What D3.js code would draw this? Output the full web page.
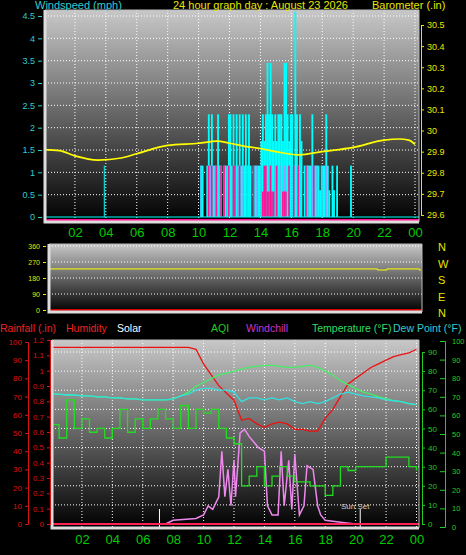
<!DOCTYPE html>
<html><head><meta charset="utf-8">
<script src="https://cdn.jsdelivr.net/npm/d3@7"></script>
<style>body{margin:0;background:#000}svg{display:block;font-family:"Liberation Sans",Arial,sans-serif}</style>
</head><body><svg id="c" width="466" height="555"></svg>
<script>
// ---- data ----
const halfHours = d3.range(0, 24.01, 0.5);
const pressure = [[0,29.91],[1,29.905],[2,29.88],[3.5,29.86],[5,29.87],[6,29.89],[8,29.93],[10,29.94],[11.2,29.95],[12,29.94],[13,29.925],[14,29.915],[15,29.9],[16.5,29.885],[18,29.9],[20,29.92],[22,29.955],[23,29.96],[23.6,29.955],[24,29.935]];
const windHours = d3.range(0, 100).map(i => 10 + i / 10);
const gust = [0,1.15,1.15,0,0,1.15,2.3,1.15,2.3,1.15,
  1.15,1.15,2.3,1.15,1.15,0,1.15,1.15,1.15,2.3,
  2.3,1.15,2.3,1.15,2.3,1.15,2.3,1.15,2.3,1.15,
  2.3,1.15,2.3,1.15,0,1.15,1.15,1.15,1.15,1.15,
  1.7,2.3,1.7,2.3,3.45,2.3,3.45,2.3,1.7,2.3,
  1.7,2.3,2.3,2.3,1.7,3.45,3.45,2.3,1.7,2.3,
  2.3,1.15,4.6,2.3,1.15,2.3,1.7,0,1.15,1.15,
  1.15,1.15,1.15,2.3,1.15,1.15,1.15,1.15,0.6,1.15,
  1.15,1.15,2.3,1.15,0.6,0,1.15,0.6,0,1.15,
  0,0,0,0,0,0,0,0,1.15,0];
const avgWind = [0,0,0,0,0,0,1.15,0,1.15,0,
  0,1.15,0,0,1.15,0,1.15,0,0,1.15,
  0,0,1.15,1.15,0,0,1.15,0,0,0,
  0,0,0,0,0,1.15,0,0,0,0,
  0,0.57,1.15,1.15,0.57,0.57,1.15,0.57,0.57,0,
  1.15,0,0,0,0.57,0.57,0.57,0,1.15,0,
  0,1.15,0,0,1.15,0,0,0,0,1.15,
  0,0,0,0,1.15,0,0,0,0,0,
  0,0,0,0,0,0,0,0,0,0,
  0,0,0,0,0,0,0,0,0,0];
const earlyGust = [[3.9,1.15]];
const dirHours = [0,21.2,21.2,21.8,21.8,23.9,23.9,24];
const direction = [231,231,225,225,231,231,225,225];
const temperature = [68,68,67.5,67.5,67,67,66.5,66.5,66,66,65.5,65.5,65,65,65,65,65.5,67,69,72,74,76,78,79,80,81,82,82.5,83,83,82.5,82,82,82.5,83,82,80,78,75,73,71,69,68,66.5,65.5,64.5,64,63,62.5];
const dewPoint = [68,68,67.5,67.5,67,67,66.5,66.5,66,66,65.5,65.5,65,65,65,65,65.5,67,68,70,71,71,70,70,69,64,66,66,65,66,65,66,64,63,64,63,64,66,68,69,68,67,66.5,66,65,64.5,64,63,62.5];
const humidity = [97,97,97,97,97,97,97,97,97,97,97,97,97,97,97,97,97,97,97,96,88,82,76,72,68,57,58,55,53,55,56,55,52,52,51,51,58,63,70,77,80,83,86,88,90,92,93,94,96];
const aqi = [52,45,65,50,55,48,50,45,50,60,48,55,50,55,60,55,50,62,50,60,58,60,50,45,42,20,25,30,20,25,30,25,22,22,20,20,15,20,30,28,30,30,30,30,35,35,35,30,28];
const solar = [[0,0],[7.5,0],[8,2],[9.5,3],[10,5],[10.3,10],[10.6,8],[11,15],[11.2,40],[11.4,15],[11.6,30],[11.8,10],[12,35],[12.1,15],[12.4,50],[12.7,52],[13,48],[13.3,45],[13.6,42],[14,40],[14.2,10],[14.5,5],[14.9,5],[15.1,40],[15.3,10],[15.6,35],[15.8,8],[16,38],[16.3,5],[16.6,10],[16.8,32],[17.2,30],[17.5,10],[17.7,5],[18,2],[19,1],[20,0],[24,0]];
const sunTimes = [7.1, 20.3];
const hourTicks = d3.range(2, 25, 2);
const hourFmt = h => d3.format("02")(h % 24);

const svg = d3.select("#c");
const defs = svg.append("defs");
const grad = defs.append("linearGradient").attr("id", "bg").attr("x1", 0).attr("x2", 0).attr("y1", 0).attr("y2", 1);
grad.append("stop").attr("offset", 0).attr("stop-color", "#c8c8c8");
grad.append("stop").attr("offset", 1).attr("stop-color", "#000");

function panel(x0, x1, y0, y1) {
  svg.append("rect").attr("x", x0).attr("y", y0).attr("width", x1 - x0).attr("height", y1 - y0).attr("fill", "url(#bg)");
}
function grid(x, ys, yTicks, y0, y1, x0, x1) {
  const g = svg.append("g").attr("stroke", "#fff").attr("stroke-dasharray", "1,2").attr("stroke-width", 1);
  hourTicks.forEach(h => g.append("line").attr("x1", x(h)).attr("x2", x(h)).attr("y1", y0).attr("y2", y1));
  yTicks.forEach(v => g.append("line").attr("x1", x0).attr("x2", x1).attr("y1", ys(v)).attr("y2", ys(v)));
}
function frame(x0, x1, y0, y1) {
  svg.append("path").attr("d", `M${x0},${y0}V${y1}H${x1}`).attr("stroke", "#ddd").attr("stroke-width", 3).attr("fill", "none");
  svg.append("path").attr("d", `M${x0},${y0}H${x1}V${y1}`).attr("stroke", "#bbb").attr("stroke-width", 1).attr("fill", "none");
}
function axis(gen, tx, color, size, line) {
  const g = svg.append("g").attr("transform", tx).call(gen);
  g.selectAll("text").attr("fill", color).attr("font-size", size);
  g.selectAll("line").attr("stroke", color);
  g.select(".domain").attr("stroke", line || color);
  return g;
}
function text(x, y, s, color, size, anchor) {
  svg.append("text").attr("x", x).attr("y", y).attr("fill", color).attr("font-size", size)
    .attr("text-anchor", anchor || "start").text(s);
}

// ---- top panel: wind + barometer ----
const xT = d3.scaleLinear().domain([0, 24]).range([44, 415]);
const yW = d3.scaleLinear().domain([0, 4.5]).range([217, 16]);
const yB = d3.scaleLinear().domain([29.6, 30.5]).range([215, 25]);
panel(45, 419, 10, 222);
grid(xT, yW, d3.range(0.5, 4.6, 0.5), 10, 222, 45, 419);
const wg = svg.append("g");
windHours.forEach((h, i) => {
  if (gust[i] > 0) wg.append("rect").attr("x", xT(h)).attr("width", xT(0.1) - xT(0) + 0.3)
    .attr("y", yW(gust[i])).attr("height", yW(0) - yW(gust[i])).attr("fill", "#00ffff");
});
windHours.forEach((h, i) => {
  if (gust[i] >= 1.15 && i % 3 === 1) wg.append("rect").attr("x", xT(h) + 0.5).attr("width", 1)
    .attr("y", yW(1.15)).attr("height", yW(0) - yW(1.15)).attr("fill", "#9a9aff");
  if (avgWind[i] > 0) wg.append("rect").attr("x", xT(h)).attr("width", xT(0.1) - xT(0))
    .attr("y", yW(avgWind[i])).attr("height", yW(0) - yW(avgWind[i])).attr("fill", "#ff1493");
});
earlyGust.forEach(d => wg.append("line").attr("x1", xT(d[0])).attr("x2", xT(d[0])).attr("y1", yW(d[1])).attr("y2", yW(0)).attr("stroke", "#00ffff"));
svg.append("line").attr("x1", 45).attr("x2", 419).attr("y1", yW(0)).attr("y2", yW(0)).attr("stroke", "#00ffff");
svg.append("line").attr("x1", 45).attr("x2", 419).attr("y1", 220).attr("y2", 220).attr("stroke", "#ff1493").attr("stroke-width", 2);
svg.append("path").datum(pressure).attr("fill", "none").attr("stroke", "#ffff00").attr("stroke-width", 1.7)
  .attr("d", d3.line().x(d => xT(d[0])).y(d => yB(d[1])).curve(d3.curveMonotoneX));
frame(45, 419, 10, 222);
axis(d3.axisLeft(yW).tickValues(d3.range(0, 4.6, 0.5)).tickFormat(d3.format("~g")).tickSize(4), "translate(42,0)", "#33cccc", 9, "none");
axis(d3.axisRight(yB).tickValues(d3.range(29.6, 30.51, 0.1)).tickFormat(d3.format(".1~f")).tickSize(3), "translate(421,0)", "#e6e600", 9, "#e6e600");
axis(d3.axisBottom(xT).tickValues(hourTicks).tickFormat(hourFmt).tickSize(0).tickPadding(6), "translate(0,222)", "#00cc00", 13, "none");
text(35, 9, "Windspeed (mph)", "#33cccc", 11);
text(173, 9, "24 hour graph day : August 23 2026", "#e6e600", 11);
text(372, 9, "Barometer (.in)", "#e6e600", 11);

// ---- middle panel: direction ----
const yD = d3.scaleLinear().domain([0, 360]).range([310, 246]);
const xM = d3.scaleLinear().domain([0, 24]).range([49, 421]);
panel(49, 422, 244, 312);
const gd = svg.append("g").attr("stroke", "#fff").attr("stroke-dasharray", "1,2");
[90, 180, 270, 360].forEach(v => gd.append("line").attr("x1", 49).attr("x2", 422).attr("y1", yD(v)).attr("y2", yD(v)));
svg.append("path").datum(dirHours.map((h, i) => [h, direction[i]])).attr("fill", "none").attr("stroke", "#ffff00")
  .attr("d", d3.line().x(d => xM(d[0])).y(d => yD(d[1])));
svg.append("line").attr("x1", 49).attr("x2", 422).attr("y1", 310).attr("y2", 310).attr("stroke", "#cc0000").attr("stroke-width", 2);
frame(49, 422, 244, 312);
axis(d3.axisLeft(yD).tickValues([0, 90, 180, 270, 360]).tickSize(3), "translate(46,0)", "#e6e600", 7, "none");
["N", "W", "S", "E", "N"].forEach((s, i) => text(438, 251 + i * 16.5, s, "#e6e600", 11));
[["Rainfall (.in)", 0, "#ee2222"], ["Humidity", 66, "#ee2222"], ["Solar", 117, "#fff"], ["AQI", 211, "#22cc22"],
 ["Windchill", 246, "#cc33cc"], ["Temperature (°F)", 312, "#33dd66"], ["Dew Point (°F)", 393, "#33cccc"]]
  .forEach(d => text(d[1], 332, d[0], d[2], 10.5));

// ---- bottom panel ----
const xB = d3.scaleLinear().domain([0, 24]).range([51.5, 416.5]);
const yH = d3.scaleLinear().domain([0, 100]).range([524, 342]);
const yR = d3.scaleLinear().domain([0, 1.2]).range([524, 340]);
const yTp = d3.scaleLinear().domain([0, 90]).range([524, 352]);
const yO = d3.scaleLinear().domain([0, 100]).range([527, 341]);
panel(52, 419, 340, 528);
grid(xB, yTp, d3.range(10, 91, 10), 340, 528, 52, 419);
sunTimes.forEach(t => svg.append("line").attr("x1", xB(t)).attr("x2", xB(t)).attr("y1", 509).attr("y2", 528).attr("stroke", "#fff"));
text(341, 509, "Sun Set", "#ccc", 8);
const hl = d3.line().x((d, i) => xB(halfHours[i])).y(d => yH(d));
svg.append("path").datum(solar).attr("fill", "none").attr("stroke", "#ee88ee").attr("stroke-width", 1.5)
  .attr("d", d3.line().x(d => xB(d[0])).y(d => yH(d[1])));
svg.append("path").datum(aqi).attr("fill", "none").attr("stroke", "#22dd22").attr("stroke-width", 1.3)
  .attr("d", d3.line().x((d, i) => xB(halfHours[i])).y(d => yTp(d)).curve(d3.curveStepAfter));
svg.append("path").datum(humidity).attr("fill", "none").attr("stroke", "#ee1111").attr("stroke-width", 1.3).attr("d", hl);
svg.append("path").datum(temperature).attr("fill", "none").attr("stroke", "#44ee66").attr("stroke-width", 1.3)
  .attr("d", d3.line().x((d, i) => xB(halfHours[i])).y(d => yTp(d)).curve(d3.curveMonotoneX));
svg.append("path").datum(dewPoint).attr("fill", "none").attr("stroke", "#33e0e0").attr("stroke-width", 1.3)
  .attr("d", d3.line().x((d, i) => xB(halfHours[i])).y(d => yTp(d)));
svg.append("line").attr("x1", 52).attr("x2", 419).attr("y1", 524).attr("y2", 524).attr("stroke", "#ff2255").attr("stroke-width", 2);
frame(52, 419, 340, 528);
axis(d3.axisLeft(yH).tickValues(d3.range(0, 101, 10)).tickSize(3), "translate(28,0)", "#dd1111", 8);
axis(d3.axisLeft(yR).tickValues(d3.range(0, 1.21, 0.1)).tickFormat(d3.format(".1~f")).tickSize(3), "translate(50,0)", "#dd1111", 8);
axis(d3.axisRight(yTp).tickValues(d3.range(0, 91, 10)).tickSize(3), "translate(422,0)", "#22cc22", 8);
axis(d3.axisRight(yO).tickValues(d3.range(0, 101, 10)).tickSize(-5).tickPadding(7), "translate(445,0)", "#22cc22", 7.5);
axis(d3.axisBottom(xB).tickValues(hourTicks).tickFormat(hourFmt).tickSize(0).tickPadding(7), "translate(0,528)", "#00cc00", 13, "none");
</script></body></html>
